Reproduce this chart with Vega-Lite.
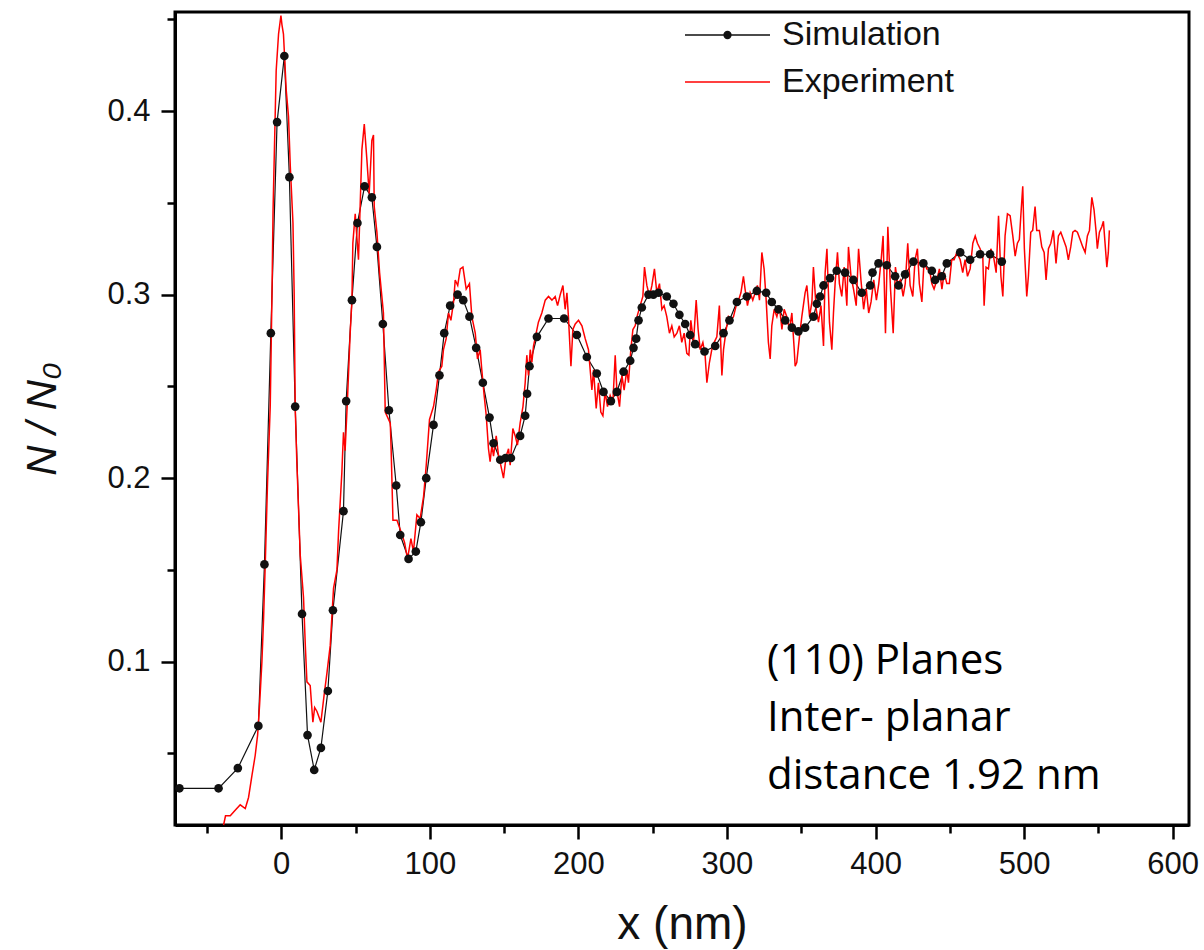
{
  "$schema": "https://vega.github.io/schema/vega-lite/v6.json",
  "width": 1014,
  "height": 813,
  "autosize": {"type": "none"},
  "padding": {"left": 175, "top": 12, "right": 15, "bottom": 125},
  "background": "white",
  "config": {
    "view": {"stroke": "black", "strokeWidth": 3},
    "axis": {"grid": false, "domainColor": "black", "domainWidth": 3, "tickColor": "black", "tickWidth": 2.5, "labelFont": "Liberation Sans", "labelFontSize": 31, "labelColor": "#111", "titleFont": "Liberation Sans", "titleFontWeight": "normal", "titleColor": "#111"}
  },
  "datasets": {
    "sim": [
      {"series":"Simulation","x":-68.5,"y":0.031},{"series":"Simulation","x":-42.2,"y":0.031},{"series":"Simulation","x":-29.2,"y":0.042},{"series":"Simulation","x":-15.4,"y":0.065},{"series":"Simulation","x":-11.3,"y":0.153},{"series":"Simulation","x":-7.0,"y":0.279},{"series":"Simulation","x":-2.8,"y":0.394},{"series":"Simulation","x":2.1,"y":0.430},{"series":"Simulation","x":5.5,"y":0.364},{"series":"Simulation","x":9.4,"y":0.239},{"series":"Simulation","x":14.0,"y":0.126},{"series":"Simulation","x":17.7,"y":0.060},{"series":"Simulation","x":22.2,"y":0.041},{"series":"Simulation","x":26.7,"y":0.053},{"series":"Simulation","x":31.4,"y":0.084},{"series":"Simulation","x":34.8,"y":0.128},{"series":"Simulation","x":41.9,"y":0.182},{"series":"Simulation","x":43.7,"y":0.242},{"series":"Simulation","x":47.6,"y":0.297},{"series":"Simulation","x":51.3,"y":0.339},{"series":"Simulation","x":56.1,"y":0.359},{"series":"Simulation","x":61.0,"y":0.353},{"series":"Simulation","x":64.4,"y":0.326},{"series":"Simulation","x":68.4,"y":0.284},{"series":"Simulation","x":72.5,"y":0.237},{"series":"Simulation","x":77.4,"y":0.196},{"series":"Simulation","x":80.1,"y":0.169},{"series":"Simulation","x":85.7,"y":0.156},{"series":"Simulation","x":90.6,"y":0.160},{"series":"Simulation","x":94.0,"y":0.176},{"series":"Simulation","x":97.6,"y":0.200},{"series":"Simulation","x":102.5,"y":0.229},{"series":"Simulation","x":106.5,"y":0.256},{"series":"Simulation","x":109.7,"y":0.279},{"series":"Simulation","x":113.7,"y":0.294},{"series":"Simulation","x":118.7,"y":0.300},{"series":"Simulation","x":122.5,"y":0.297},{"series":"Simulation","x":126.7,"y":0.288},{"series":"Simulation","x":131.2,"y":0.271},{"series":"Simulation","x":135.7,"y":0.252},{"series":"Simulation","x":140.2,"y":0.233},{"series":"Simulation","x":142.9,"y":0.219},{"series":"Simulation","x":147.4,"y":0.210},{"series":"Simulation","x":151.0,"y":0.211},{"series":"Simulation","x":154.6,"y":0.211},{"series":"Simulation","x":160.8,"y":0.223},{"series":"Simulation","x":164.2,"y":0.234},{"series":"Simulation","x":165.5,"y":0.246},{"series":"Simulation","x":167.1,"y":0.261},{"series":"Simulation","x":172.1,"y":0.277},{"series":"Simulation","x":179.9,"y":0.287},{"series":"Simulation","x":190.4,"y":0.287},{"series":"Simulation","x":199.0,"y":0.278},{"series":"Simulation","x":205.7,"y":0.266},{"series":"Simulation","x":212.4,"y":0.257},{"series":"Simulation","x":216.9,"y":0.247},{"series":"Simulation","x":221.9,"y":0.242},{"series":"Simulation","x":225.9,"y":0.247},{"series":"Simulation","x":230.4,"y":0.258},{"series":"Simulation","x":234.9,"y":0.264},{"series":"Simulation","x":237.1,"y":0.271},{"series":"Simulation","x":238.9,"y":0.276},{"series":"Simulation","x":240.5,"y":0.286},{"series":"Simulation","x":242.7,"y":0.293},{"series":"Simulation","x":247.2,"y":0.300},{"series":"Simulation","x":250.5,"y":0.300},{"series":"Simulation","x":254.0,"y":0.301},{"series":"Simulation","x":259.5,"y":0.299},{"series":"Simulation","x":264.0,"y":0.295},{"series":"Simulation","x":268.0,"y":0.289},{"series":"Simulation","x":271.9,"y":0.284},{"series":"Simulation","x":275.2,"y":0.278},{"series":"Simulation","x":278.6,"y":0.273},{"series":"Simulation","x":284.9,"y":0.269},{"series":"Simulation","x":292.1,"y":0.272},{"series":"Simulation","x":297.7,"y":0.279},{"series":"Simulation","x":301.7,"y":0.286},{"series":"Simulation","x":306.7,"y":0.296},{"series":"Simulation","x":313.4,"y":0.299},{"series":"Simulation","x":320.1,"y":0.302},{"series":"Simulation","x":326.4,"y":0.301},{"series":"Simulation","x":330.2,"y":0.296},{"series":"Simulation","x":334.7,"y":0.292},{"series":"Simulation","x":339.2,"y":0.286},{"series":"Simulation","x":343.7,"y":0.282},{"series":"Simulation","x":348.1,"y":0.280},{"series":"Simulation","x":352.6,"y":0.282},{"series":"Simulation","x":358.2,"y":0.288},{"series":"Simulation","x":360.5,"y":0.295},{"series":"Simulation","x":362.7,"y":0.299},{"series":"Simulation","x":365.0,"y":0.305},{"series":"Simulation","x":369.4,"y":0.309},{"series":"Simulation","x":373.9,"y":0.313},{"series":"Simulation","x":379.5,"y":0.312},{"series":"Simulation","x":385.1,"y":0.308},{"series":"Simulation","x":390.7,"y":0.301},{"series":"Simulation","x":396.4,"y":0.305},{"series":"Simulation","x":398.0,"y":0.312},{"series":"Simulation","x":402.0,"y":0.317},{"series":"Simulation","x":407.6,"y":0.316},{"series":"Simulation","x":413.2,"y":0.310},{"series":"Simulation","x":415.5,"y":0.305},{"series":"Simulation","x":419.9,"y":0.311},{"series":"Simulation","x":425.5,"y":0.318},{"series":"Simulation","x":432.2,"y":0.317},{"series":"Simulation","x":437.9,"y":0.313},{"series":"Simulation","x":440.1,"y":0.308},{"series":"Simulation","x":444.6,"y":0.310},{"series":"Simulation","x":448.0,"y":0.317},{"series":"Simulation","x":457.0,"y":0.323},{"series":"Simulation","x":463.7,"y":0.319},{"series":"Simulation","x":470.4,"y":0.322},{"series":"Simulation","x":477.1,"y":0.322},{"series":"Simulation","x":485.0,"y":0.318}
    ],
    "exp": [
      {"series":"Experiment","x":-38.8,"y":0.011},{"series":"Experiment","x":-37.5,"y":0.016},{"series":"Experiment","x":-34.3,"y":0.016},{"series":"Experiment","x":-31.0,"y":0.019},{"series":"Experiment","x":-27.6,"y":0.022},{"series":"Experiment","x":-24.2,"y":0.020},{"series":"Experiment","x":-22.0,"y":0.026},{"series":"Experiment","x":-19.7,"y":0.038},{"series":"Experiment","x":-17.5,"y":0.049},{"series":"Experiment","x":-15.9,"y":0.060},{"series":"Experiment","x":-14.6,"y":0.076},{"series":"Experiment","x":-13.0,"y":0.100},{"series":"Experiment","x":-11.9,"y":0.123},{"series":"Experiment","x":-10.8,"y":0.152},{"series":"Experiment","x":-9.2,"y":0.198},{"series":"Experiment","x":-7.4,"y":0.239},{"series":"Experiment","x":-6.3,"y":0.296},{"series":"Experiment","x":-5.5,"y":0.346},{"series":"Experiment","x":-3.4,"y":0.422},{"series":"Experiment","x":-1.8,"y":0.442},{"series":"Experiment","x":-0.2,"y":0.452},{"series":"Experiment","x":0.5,"y":0.447},{"series":"Experiment","x":1.5,"y":0.442},{"series":"Experiment","x":3.4,"y":0.411},{"series":"Experiment","x":4.9,"y":0.397},{"series":"Experiment","x":6.1,"y":0.370},{"series":"Experiment","x":7.9,"y":0.339},{"series":"Experiment","x":8.7,"y":0.301},{"series":"Experiment","x":9.4,"y":0.239},{"series":"Experiment","x":10.5,"y":0.209},{"series":"Experiment","x":12.8,"y":0.158},{"series":"Experiment","x":15.0,"y":0.135},{"series":"Experiment","x":16.2,"y":0.109},{"series":"Experiment","x":17.3,"y":0.089},{"series":"Experiment","x":19.5,"y":0.087},{"series":"Experiment","x":21.3,"y":0.067},{"series":"Experiment","x":22.5,"y":0.075},{"series":"Experiment","x":24.0,"y":0.073},{"series":"Experiment","x":26.7,"y":0.067},{"series":"Experiment","x":28.9,"y":0.082},{"series":"Experiment","x":30.8,"y":0.094},{"series":"Experiment","x":33.0,"y":0.109},{"series":"Experiment","x":35.2,"y":0.140},{"series":"Experiment","x":37.5,"y":0.150},{"series":"Experiment","x":38.6,"y":0.171},{"series":"Experiment","x":40.8,"y":0.203},{"series":"Experiment","x":41.9,"y":0.225},{"series":"Experiment","x":43.0,"y":0.215},{"series":"Experiment","x":44.6,"y":0.243},{"series":"Experiment","x":46.4,"y":0.279},{"series":"Experiment","x":47.6,"y":0.297},{"series":"Experiment","x":48.2,"y":0.328},{"series":"Experiment","x":49.8,"y":0.344},{"series":"Experiment","x":52.0,"y":0.319},{"series":"Experiment","x":54.3,"y":0.379},{"series":"Experiment","x":55.9,"y":0.393},{"series":"Experiment","x":57.7,"y":0.373},{"series":"Experiment","x":59.2,"y":0.355},{"series":"Experiment","x":61.0,"y":0.384},{"series":"Experiment","x":62.1,"y":0.387},{"series":"Experiment","x":62.6,"y":0.348},{"series":"Experiment","x":64.4,"y":0.334},{"series":"Experiment","x":66.2,"y":0.312},{"series":"Experiment","x":68.8,"y":0.290},{"series":"Experiment","x":70.0,"y":0.236},{"series":"Experiment","x":73.4,"y":0.230},{"series":"Experiment","x":74.0,"y":0.215},{"series":"Experiment","x":75.2,"y":0.177},{"series":"Experiment","x":77.9,"y":0.177},{"series":"Experiment","x":80.1,"y":0.172},{"series":"Experiment","x":83.0,"y":0.165},{"series":"Experiment","x":85.0,"y":0.156},{"series":"Experiment","x":87.3,"y":0.167},{"series":"Experiment","x":89.0,"y":0.160},{"series":"Experiment","x":91.3,"y":0.180},{"series":"Experiment","x":93.5,"y":0.178},{"series":"Experiment","x":95.8,"y":0.190},{"series":"Experiment","x":97.6,"y":0.207},{"series":"Experiment","x":99.8,"y":0.232},{"series":"Experiment","x":102.5,"y":0.239},{"series":"Experiment","x":104.3,"y":0.248},{"series":"Experiment","x":105.9,"y":0.258},{"series":"Experiment","x":108.1,"y":0.261},{"series":"Experiment","x":109.2,"y":0.270},{"series":"Experiment","x":111.0,"y":0.276},{"series":"Experiment","x":112.6,"y":0.290},{"series":"Experiment","x":114.2,"y":0.286},{"series":"Experiment","x":116.0,"y":0.296},{"series":"Experiment","x":117.1,"y":0.308},{"series":"Experiment","x":118.8,"y":0.305},{"series":"Experiment","x":120.5,"y":0.314},{"series":"Experiment","x":122.3,"y":0.315},{"series":"Experiment","x":124.5,"y":0.303},{"series":"Experiment","x":126.7,"y":0.306},{"series":"Experiment","x":128.3,"y":0.288},{"series":"Experiment","x":130.6,"y":0.279},{"series":"Experiment","x":132.1,"y":0.265},{"series":"Experiment","x":133.9,"y":0.270},{"series":"Experiment","x":135.0,"y":0.259},{"series":"Experiment","x":136.6,"y":0.245},{"series":"Experiment","x":138.0,"y":0.234},{"series":"Experiment","x":139.5,"y":0.216},{"series":"Experiment","x":140.6,"y":0.209},{"series":"Experiment","x":141.8,"y":0.218},{"series":"Experiment","x":142.9,"y":0.212},{"series":"Experiment","x":144.7,"y":0.223},{"series":"Experiment","x":146.3,"y":0.212},{"series":"Experiment","x":147.8,"y":0.207},{"series":"Experiment","x":149.6,"y":0.200},{"series":"Experiment","x":151.4,"y":0.212},{"series":"Experiment","x":153.0,"y":0.216},{"series":"Experiment","x":154.1,"y":0.207},{"series":"Experiment","x":155.9,"y":0.227},{"series":"Experiment","x":157.5,"y":0.223},{"series":"Experiment","x":159.0,"y":0.218},{"series":"Experiment","x":160.8,"y":0.230},{"series":"Experiment","x":162.7,"y":0.239},{"series":"Experiment","x":164.2,"y":0.252},{"series":"Experiment","x":165.3,"y":0.267},{"series":"Experiment","x":166.4,"y":0.256},{"series":"Experiment","x":167.6,"y":0.270},{"series":"Experiment","x":168.7,"y":0.263},{"series":"Experiment","x":169.8,"y":0.272},{"series":"Experiment","x":171.6,"y":0.279},{"series":"Experiment","x":173.1,"y":0.285},{"series":"Experiment","x":175.4,"y":0.290},{"series":"Experiment","x":177.7,"y":0.297},{"series":"Experiment","x":179.9,"y":0.299},{"series":"Experiment","x":182.2,"y":0.297},{"series":"Experiment","x":184.4,"y":0.299},{"series":"Experiment","x":186.0,"y":0.294},{"series":"Experiment","x":187.8,"y":0.300},{"series":"Experiment","x":189.6,"y":0.305},{"series":"Experiment","x":191.1,"y":0.292},{"series":"Experiment","x":192.3,"y":0.301},{"series":"Experiment","x":193.3,"y":0.288},{"series":"Experiment","x":195.0,"y":0.261},{"series":"Experiment","x":196.3,"y":0.281},{"series":"Experiment","x":197.9,"y":0.284},{"series":"Experiment","x":200.1,"y":0.286},{"series":"Experiment","x":202.4,"y":0.283},{"series":"Experiment","x":204.6,"y":0.276},{"series":"Experiment","x":206.8,"y":0.270},{"series":"Experiment","x":209.1,"y":0.248},{"series":"Experiment","x":210.2,"y":0.259},{"series":"Experiment","x":212.0,"y":0.238},{"series":"Experiment","x":213.5,"y":0.252},{"series":"Experiment","x":215.1,"y":0.236},{"series":"Experiment","x":216.5,"y":0.234},{"series":"Experiment","x":218.0,"y":0.247},{"series":"Experiment","x":219.6,"y":0.239},{"series":"Experiment","x":221.4,"y":0.245},{"series":"Experiment","x":223.2,"y":0.241},{"series":"Experiment","x":224.8,"y":0.267},{"series":"Experiment","x":225.9,"y":0.248},{"series":"Experiment","x":227.7,"y":0.239},{"series":"Experiment","x":229.3,"y":0.256},{"series":"Experiment","x":230.8,"y":0.248},{"series":"Experiment","x":232.6,"y":0.259},{"series":"Experiment","x":233.7,"y":0.252},{"series":"Experiment","x":235.3,"y":0.270},{"series":"Experiment","x":236.7,"y":0.281},{"series":"Experiment","x":238.2,"y":0.283},{"series":"Experiment","x":239.8,"y":0.289},{"series":"Experiment","x":241.6,"y":0.294},{"series":"Experiment","x":243.4,"y":0.299},{"series":"Experiment","x":244.5,"y":0.315},{"series":"Experiment","x":246.1,"y":0.305},{"series":"Experiment","x":247.9,"y":0.299},{"series":"Experiment","x":249.5,"y":0.305},{"series":"Experiment","x":251.2,"y":0.314},{"series":"Experiment","x":252.8,"y":0.301},{"series":"Experiment","x":254.6,"y":0.306},{"series":"Experiment","x":256.2,"y":0.292},{"series":"Experiment","x":257.7,"y":0.294},{"series":"Experiment","x":259.5,"y":0.288},{"series":"Experiment","x":261.3,"y":0.279},{"series":"Experiment","x":262.9,"y":0.283},{"series":"Experiment","x":264.5,"y":0.277},{"series":"Experiment","x":266.3,"y":0.279},{"series":"Experiment","x":268.0,"y":0.283},{"series":"Experiment","x":269.6,"y":0.274},{"series":"Experiment","x":271.2,"y":0.279},{"series":"Experiment","x":273.0,"y":0.268},{"series":"Experiment","x":274.4,"y":0.267},{"series":"Experiment","x":275.7,"y":0.286},{"series":"Experiment","x":277.5,"y":0.274},{"series":"Experiment","x":279.3,"y":0.297},{"series":"Experiment","x":280.6,"y":0.281},{"series":"Experiment","x":282.0,"y":0.270},{"series":"Experiment","x":283.8,"y":0.274},{"series":"Experiment","x":285.3,"y":0.267},{"series":"Experiment","x":286.5,"y":0.252},{"series":"Experiment","x":288.2,"y":0.263},{"series":"Experiment","x":289.8,"y":0.270},{"series":"Experiment","x":291.4,"y":0.274},{"series":"Experiment","x":293.2,"y":0.277},{"series":"Experiment","x":294.9,"y":0.294},{"series":"Experiment","x":296.6,"y":0.256},{"series":"Experiment","x":297.7,"y":0.270},{"series":"Experiment","x":299.5,"y":0.281},{"series":"Experiment","x":301.0,"y":0.288},{"series":"Experiment","x":302.6,"y":0.286},{"series":"Experiment","x":304.4,"y":0.288},{"series":"Experiment","x":306.2,"y":0.294},{"series":"Experiment","x":307.8,"y":0.297},{"series":"Experiment","x":309.4,"y":0.301},{"series":"Experiment","x":311.1,"y":0.310},{"series":"Experiment","x":312.2,"y":0.303},{"series":"Experiment","x":313.8,"y":0.294},{"series":"Experiment","x":315.6,"y":0.301},{"series":"Experiment","x":317.4,"y":0.297},{"series":"Experiment","x":319.0,"y":0.301},{"series":"Experiment","x":320.5,"y":0.305},{"series":"Experiment","x":321.9,"y":0.297},{"series":"Experiment","x":323.5,"y":0.323},{"series":"Experiment","x":325.0,"y":0.314},{"series":"Experiment","x":326.4,"y":0.297},{"series":"Experiment","x":327.9,"y":0.274},{"series":"Experiment","x":329.1,"y":0.265},{"series":"Experiment","x":330.2,"y":0.283},{"series":"Experiment","x":331.8,"y":0.292},{"series":"Experiment","x":333.6,"y":0.288},{"series":"Experiment","x":335.3,"y":0.294},{"series":"Experiment","x":337.0,"y":0.281},{"series":"Experiment","x":338.5,"y":0.292},{"series":"Experiment","x":340.3,"y":0.288},{"series":"Experiment","x":342.1,"y":0.281},{"series":"Experiment","x":343.7,"y":0.290},{"series":"Experiment","x":345.3,"y":0.270},{"series":"Experiment","x":345.9,"y":0.261},{"series":"Experiment","x":347.0,"y":0.263},{"series":"Experiment","x":348.8,"y":0.277},{"series":"Experiment","x":350.4,"y":0.288},{"series":"Experiment","x":352.6,"y":0.301},{"series":"Experiment","x":353.8,"y":0.305},{"series":"Experiment","x":355.6,"y":0.288},{"series":"Experiment","x":357.2,"y":0.296},{"series":"Experiment","x":358.2,"y":0.315},{"series":"Experiment","x":360.1,"y":0.292},{"series":"Experiment","x":361.6,"y":0.285},{"series":"Experiment","x":363.3,"y":0.294},{"series":"Experiment","x":365.0,"y":0.272},{"series":"Experiment","x":366.1,"y":0.312},{"series":"Experiment","x":367.3,"y":0.325},{"series":"Experiment","x":369.0,"y":0.285},{"series":"Experiment","x":370.6,"y":0.270},{"series":"Experiment","x":371.7,"y":0.290},{"series":"Experiment","x":372.8,"y":0.306},{"series":"Experiment","x":374.4,"y":0.323},{"series":"Experiment","x":375.7,"y":0.306},{"series":"Experiment","x":377.3,"y":0.299},{"series":"Experiment","x":378.9,"y":0.315},{"series":"Experiment","x":380.7,"y":0.294},{"series":"Experiment","x":381.8,"y":0.326},{"series":"Experiment","x":383.5,"y":0.310},{"series":"Experiment","x":385.2,"y":0.303},{"series":"Experiment","x":387.0,"y":0.294},{"series":"Experiment","x":388.6,"y":0.325},{"series":"Experiment","x":390.2,"y":0.308},{"series":"Experiment","x":392.0,"y":0.292},{"series":"Experiment","x":393.8,"y":0.303},{"series":"Experiment","x":395.4,"y":0.290},{"series":"Experiment","x":397.0,"y":0.296},{"series":"Experiment","x":398.8,"y":0.308},{"series":"Experiment","x":400.6,"y":0.297},{"series":"Experiment","x":402.2,"y":0.306},{"series":"Experiment","x":403.8,"y":0.319},{"series":"Experiment","x":405.1,"y":0.332},{"series":"Experiment","x":406.7,"y":0.279},{"series":"Experiment","x":408.3,"y":0.337},{"series":"Experiment","x":410.1,"y":0.303},{"series":"Experiment","x":411.9,"y":0.279},{"series":"Experiment","x":413.4,"y":0.315},{"series":"Experiment","x":415.0,"y":0.306},{"series":"Experiment","x":416.8,"y":0.308},{"series":"Experiment","x":418.6,"y":0.299},{"series":"Experiment","x":420.0,"y":0.306},{"series":"Experiment","x":421.7,"y":0.328},{"series":"Experiment","x":423.3,"y":0.305},{"series":"Experiment","x":425.1,"y":0.299},{"series":"Experiment","x":426.6,"y":0.319},{"series":"Experiment","x":428.2,"y":0.325},{"series":"Experiment","x":429.5,"y":0.306},{"series":"Experiment","x":431.2,"y":0.296},{"series":"Experiment","x":432.7,"y":0.319},{"series":"Experiment","x":434.5,"y":0.314},{"series":"Experiment","x":436.3,"y":0.314},{"series":"Experiment","x":437.9,"y":0.306},{"series":"Experiment","x":439.4,"y":0.303},{"series":"Experiment","x":441.3,"y":0.308},{"series":"Experiment","x":443.0,"y":0.314},{"series":"Experiment","x":444.7,"y":0.303},{"series":"Experiment","x":446.2,"y":0.312},{"series":"Experiment","x":448.0,"y":0.306},{"series":"Experiment","x":449.7,"y":0.306},{"series":"Experiment","x":451.3,"y":0.319},{"series":"Experiment","x":452.9,"y":0.319},{"series":"Experiment","x":454.7,"y":0.323},{"series":"Experiment","x":457.0,"y":0.319},{"series":"Experiment","x":458.7,"y":0.312},{"series":"Experiment","x":460.3,"y":0.319},{"series":"Experiment","x":461.9,"y":0.310},{"series":"Experiment","x":463.7,"y":0.314},{"series":"Experiment","x":465.5,"y":0.328},{"series":"Experiment","x":467.1,"y":0.332},{"series":"Experiment","x":468.6,"y":0.328},{"series":"Experiment","x":470.4,"y":0.325},{"series":"Experiment","x":472.2,"y":0.321},{"series":"Experiment","x":473.1,"y":0.294},{"series":"Experiment","x":474.4,"y":0.315},{"series":"Experiment","x":476.0,"y":0.314},{"series":"Experiment","x":477.6,"y":0.325},{"series":"Experiment","x":479.4,"y":0.321},{"series":"Experiment","x":481.2,"y":0.312},{"series":"Experiment","x":482.8,"y":0.343},{"series":"Experiment","x":484.4,"y":0.310},{"series":"Experiment","x":485.7,"y":0.299},{"series":"Experiment","x":487.2,"y":0.332},{"series":"Experiment","x":488.8,"y":0.344},{"series":"Experiment","x":490.6,"y":0.343},{"series":"Experiment","x":492.4,"y":0.332},{"series":"Experiment","x":494.0,"y":0.321},{"series":"Experiment","x":495.5,"y":0.328},{"series":"Experiment","x":496.8,"y":0.330},{"series":"Experiment","x":497.8,"y":0.343},{"series":"Experiment","x":499.1,"y":0.359},{"series":"Experiment","x":500.2,"y":0.325},{"series":"Experiment","x":501.8,"y":0.299},{"series":"Experiment","x":502.9,"y":0.310},{"series":"Experiment","x":504.5,"y":0.334},{"series":"Experiment","x":505.8,"y":0.335},{"series":"Experiment","x":507.4,"y":0.348},{"series":"Experiment","x":508.5,"y":0.335},{"series":"Experiment","x":510.3,"y":0.335},{"series":"Experiment","x":511.9,"y":0.326},{"series":"Experiment","x":513.5,"y":0.323},{"series":"Experiment","x":514.8,"y":0.308},{"series":"Experiment","x":516.4,"y":0.325},{"series":"Experiment","x":518.0,"y":0.328},{"series":"Experiment","x":519.7,"y":0.335},{"series":"Experiment","x":521.5,"y":0.317},{"series":"Experiment","x":523.1,"y":0.332},{"series":"Experiment","x":524.7,"y":0.334},{"series":"Experiment","x":526.5,"y":0.330},{"series":"Experiment","x":528.3,"y":0.326},{"series":"Experiment","x":529.8,"y":0.319},{"series":"Experiment","x":531.4,"y":0.326},{"series":"Experiment","x":532.8,"y":0.334},{"series":"Experiment","x":534.3,"y":0.335},{"series":"Experiment","x":535.9,"y":0.334},{"series":"Experiment","x":537.7,"y":0.330},{"series":"Experiment","x":539.5,"y":0.326},{"series":"Experiment","x":541.1,"y":0.323},{"series":"Experiment","x":542.6,"y":0.332},{"series":"Experiment","x":544.0,"y":0.335},{"series":"Experiment","x":545.6,"y":0.353},{"series":"Experiment","x":547.1,"y":0.346},{"series":"Experiment","x":548.5,"y":0.334},{"series":"Experiment","x":549.3,"y":0.325},{"series":"Experiment","x":550.7,"y":0.334},{"series":"Experiment","x":552.3,"y":0.337},{"series":"Experiment","x":553.4,"y":0.340},{"series":"Experiment","x":554.5,"y":0.328},{"series":"Experiment","x":555.7,"y":0.315},{"series":"Experiment","x":556.7,"y":0.323},{"series":"Experiment","x":557.4,"y":0.335}
    ],
    "note": [
      {"x": 327, "y": 0.0935}
    ]
  },
  "layer": [
    {
      "data": {"name": "sim"},
      "mark": {"type": "line", "strokeWidth": 1.2},
      "encoding": {
        "x": {"field": "x", "type": "quantitative", "scale": {"domain": [-71.5, 611], "nice": false, "zero": false},
              "axis": {"orient": "bottom", "values": [0, 100, 200, 300, 400, 500, 600], "tickSize": 14, "labelPadding": 10, "title": "x (nm)", "titleFontSize": 46, "titleBaseline": "alphabetic", "titleY": 113}},
        "y": {"field": "y", "type": "quantitative", "scale": {"domain": [0.011, 0.454], "nice": false, "zero": false},
              "axis": {"orient": "left", "values": [0.1, 0.2, 0.3, 0.4], "format": ".1f", "tickSize": 14, "labelPadding": 11, "title": "N / N₀", "titleFontSize": 42, "titleFontStyle": "italic", "titleBaseline": "alphabetic", "titleX": -120}},
        "color": {"field": "series", "type": "nominal",
                  "scale": {"domain": ["Simulation", "Experiment"], "range": ["#111111", "#ff0000"]},
                  "legend": {"orient": "none", "legendX": 535.5, "legendY": 6, "title": null, "padding": 0,
                             "symbolType": "M-4.25,0H4.25", "symbolSize": 400, "symbolStrokeWidth": 1.5,
                             "labelFont": "Liberation Sans", "labelFontSize": 34, "labelLimit": 400, "labelColor": "#111", "labelOffset": 37.5, "rowPadding": 13,
                             "encode": {"symbols": {"update": {
                               "shape": {"signal": "datum.value === 'Simulation' ? 'M-4.25,0H4.25M-0.34,0a0.34,0.34 0 1,0 0.68,0a0.34,0.34 0 1,0 -0.68,0Z' : 'M-4.25,0H4.25'"},
                               "fill": {"signal": "datum.value === 'Simulation' ? '#111111' : 'transparent'"}}}}}}
      }
    },
    {
      "data": {"name": "exp"},
      "mark": {"type": "line", "strokeWidth": 1.5},
      "encoding": {
        "x": {"field": "x", "type": "quantitative",
              "axis": {"orient": "bottom", "values": [-50, 50, 150, 250, 350, 450, 550], "tickSize": 8, "labels": false, "domain": false, "title": null}},
        "y": {"field": "y", "type": "quantitative",
              "axis": {"orient": "left", "values": [0.05, 0.15, 0.25, 0.35, 0.45], "tickSize": 8, "labels": false, "domain": false, "title": null}},
        "color": {"field": "series", "type": "nominal"}
      }
    },
    {
      "data": {"name": "sim"},
      "mark": {"type": "point", "filled": true, "size": 75, "color": "#111111", "opacity": 1},
      "encoding": {
        "x": {"field": "x", "type": "quantitative", "axis": null},
        "y": {"field": "y", "type": "quantitative", "axis": null}
      }
    },
    {
      "data": {"name": "note"},
      "mark": {"type": "text", "text": ["(110) Planes", "Inter- planar", "distance 1.92 nm"], "align": "left", "baseline": "alphabetic", "font": "Open Sans", "fontSize": 42, "lineHeight": 57.5, "color": "black"},
      "encoding": {
        "x": {"field": "x", "type": "quantitative", "axis": null},
        "y": {"field": "y", "type": "quantitative", "axis": null}
      }
    }
  ],
  "resolve": {"axis": {"x": "independent", "y": "independent"}}
}
